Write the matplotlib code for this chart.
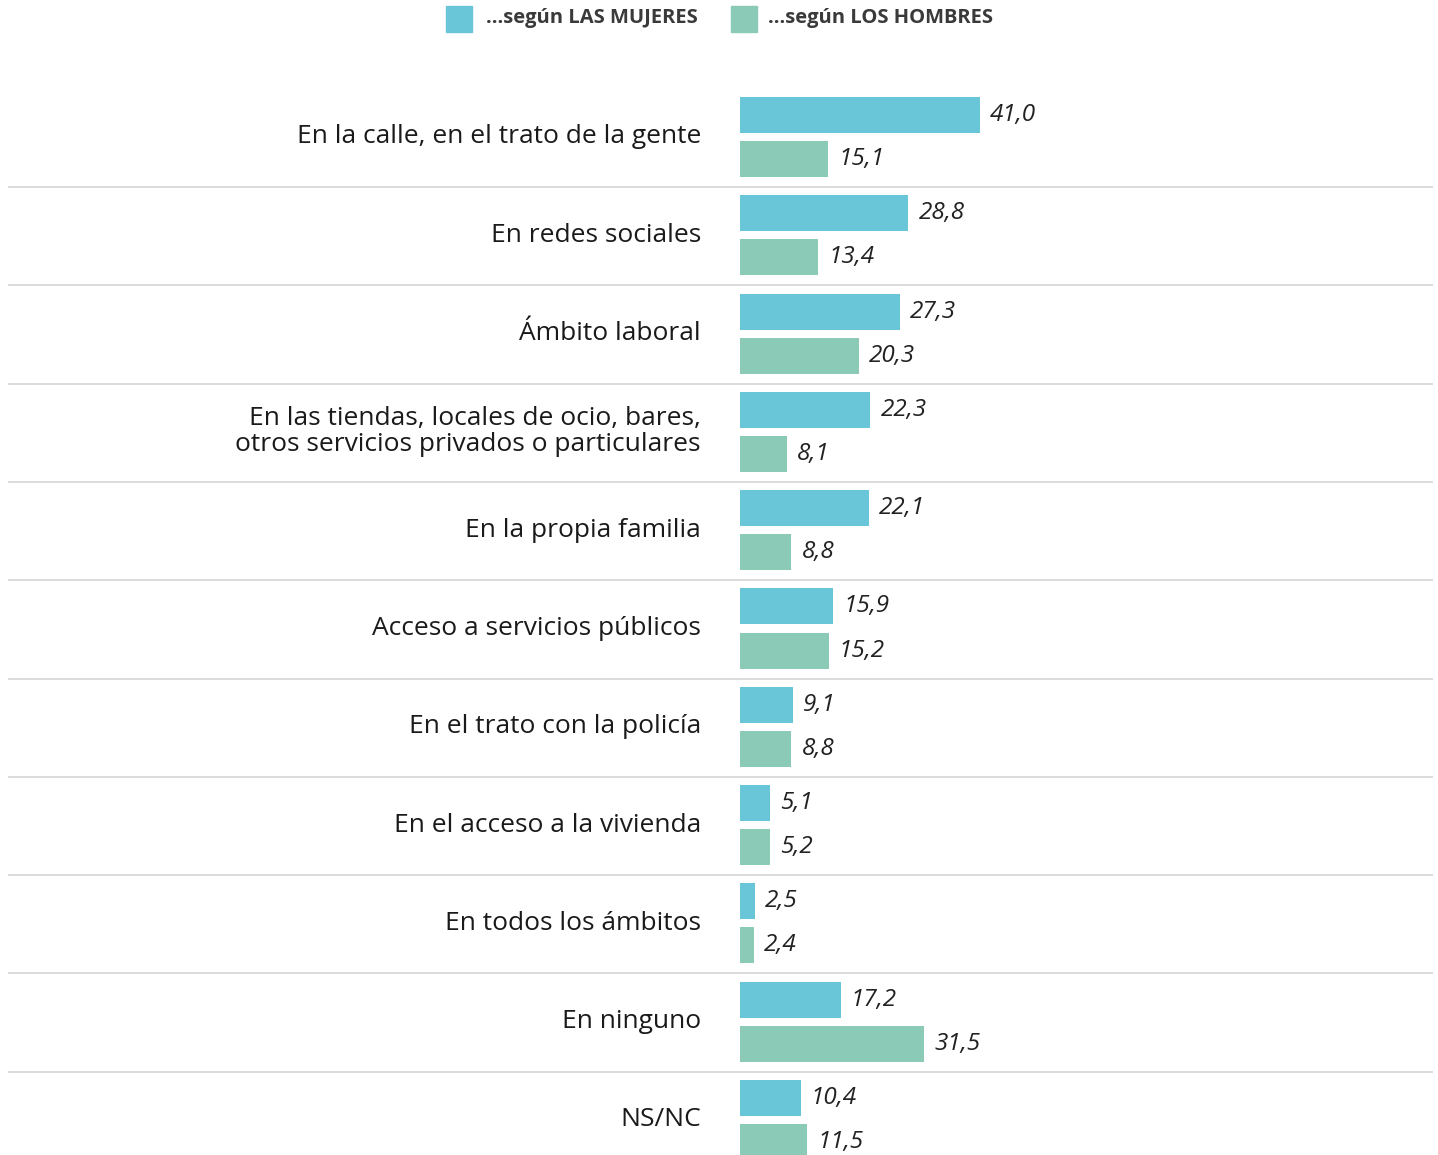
import matplotlib.pyplot as plt
from matplotlib.patches import Rectangle

# Data
categories = [
    'En la calle, en el trato de la gente',
    'En redes sociales',
    'Ámbito laboral',
    'En las tiendas, locales de ocio, bares,\notros servicios privados o particulares',
    'En la propia familia',
    'Acceso a servicios públicos',
    'En el trato con la policía',
    'En el acceso a la vivienda',
    'En todos los ámbitos',
    'En ninguno',
    'NS/NC',
]
mujeres = [41.0, 28.8, 27.3, 22.3, 22.1, 15.9, 9.1, 5.1, 2.5, 17.2, 10.4]
hombres = [15.1, 13.4, 20.3, 8.1, 8.8, 15.2, 8.8, 5.2, 2.4, 31.5, 11.5]
series_labels = ['...según LAS MUJERES', '...según LOS HOMBRES']

BLUE = '#69C5D8'
GREEN = '#8ACAB7'
SEP = '#d2d2d2'

W, H, DPI = 1438, 1155, 100
PX_UNIT = 5.85      # pixels per percentage point
X0 = 740            # pixel of zero
GROUP = 98.3        # pixels per group
Y0 = 137            # pixel centre of first group

plt.rcParams['font.family'] = ['Open Sans', 'DejaVu Sans']

fig = plt.figure(figsize=(W / DPI, H / DPI), dpi=DPI)
ax = fig.add_axes([0, 0, 1, 1])
ax.set_xlim(-X0 / PX_UNIT, (W - X0) / PX_UNIT)
ax.set_ylim((H - Y0) / GROUP, -Y0 / GROUP)
ax.axis('off')

offset = 0.224
bar_h = 0.366
ys = list(range(len(categories)))
ax.barh([y - offset for y in ys], mujeres, height=bar_h, color=BLUE, left=0)
ax.barh([y + offset for y in ys], hombres, height=bar_h, color=GREEN, left=0)

gap = 10 / PX_UNIT
for y, m, h in zip(ys, mujeres, hombres):
    ax.text(m + gap, y - offset, f'{m:.1f}'.replace('.', ','), ha='left', va='center',
            fontsize=17.5, style='italic', color='#222222')
    ax.text(h + gap, y + offset, f'{h:.1f}'.replace('.', ','), ha='left', va='center',
            fontsize=17.5, style='italic', color='#222222')

lab_x = (701 - X0) / PX_UNIT
for y, c in zip(ys, categories):
    ax.text(lab_x, y, c, ha='right', va='center', fontsize=19, color='#1a1a1a',
            linespacing=1.05)

# separators between groups
for y in ys[:-1]:
    ax.plot([(8 - X0) / PX_UNIT, (1433 - X0) / PX_UNIT], [y + 0.509, y + 0.509],
            color=SEP, lw=1.1, solid_capstyle='butt')

# legend drawn manually at the top
def px(x, y):
    return (x - X0) / PX_UNIT, (y - Y0) / GROUP

for (sx, tx), col, lab in zip([(446, 486), (731, 768)], [BLUE, GREEN], series_labels):
    x1, y1 = px(sx, 32)
    x2, y2 = px(sx + 26, 6)
    ax.add_patch(Rectangle((x1, y2), x2 - x1, y1 - y2, color=col, clip_on=False))
    tx_, ty_ = px(tx, 18)
    ax.text(tx_, ty_, lab, ha='left', va='center', fontsize=14.5, weight='bold',
            color='#3a3a3a')

fig.savefig('out.png', dpi=DPI)
